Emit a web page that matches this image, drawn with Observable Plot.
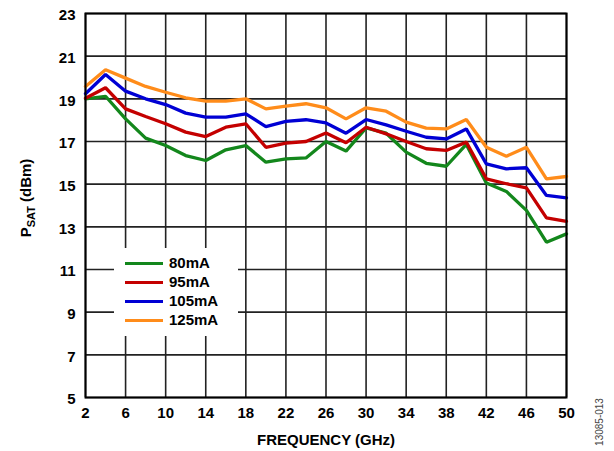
<!DOCTYPE html>
<html><head><meta charset="utf-8">
<script src="https://cdn.jsdelivr.net/npm/d3@7"></script>
<script src="https://cdn.jsdelivr.net/npm/@observablehq/plot@0.6"></script>
<style>
body{margin:0;background:#fff;}
#wrap{position:relative;width:614px;height:451px;font-family:"Liberation Sans",Arial,sans-serif;}
#legend{position:absolute;left:114px;top:248px;width:124px;height:88px;background:#fff;}
.row{position:absolute;left:0;height:20px;width:124px;}
.sw{position:absolute;left:11px;top:9px;width:38px;height:3px;}
.lab{position:absolute;left:55px;top:1px;font-weight:bold;font-size:15px;line-height:18px;color:#000;}
</style></head>
<body>
<div id="wrap"></div>
<script>
const freq = [2,4,6,8,10,12,14,16,18,20,22,24,26,28,30,32,34,36,38,40,42,44,46,48,50];
const s80  = [19.0,19.12,18.06,17.16,16.81,16.34,16.11,16.61,16.81,16.03,16.19,16.23,17.0,16.55,17.64,17.39,16.5,15.98,15.84,16.86,15.05,14.66,13.77,12.28,12.67];
const s95  = [19.03,19.52,18.53,18.17,17.83,17.44,17.23,17.67,17.83,16.73,16.92,17.0,17.4,16.94,17.67,17.36,17.0,16.66,16.58,16.97,15.25,15.02,14.83,13.42,13.26];
const s105 = [19.24,20.14,19.36,19.0,18.73,18.33,18.14,18.14,18.3,17.7,17.94,18.02,17.87,17.39,18.03,17.78,17.48,17.2,17.12,17.59,15.95,15.72,15.77,14.47,14.36];
const s125 = [19.58,20.36,19.97,19.58,19.31,19.05,18.89,18.89,19.0,18.53,18.66,18.77,18.58,18.06,18.58,18.42,17.91,17.63,17.59,18.03,16.73,16.31,16.73,15.25,15.36];
const seriesNames = ["80mA","95mA","105mA","125mA"];
const seriesColors = ["#13871c","#c40000","#0000d4","#ff8c1a"];
const xTicks = [2,6,10,14,18,22,26,30,34,38,42,46,50];
const yTicks = [5,7,9,11,13,15,17,19,21,23];

const allSeries = [s80,s95,s105,s125];
const data = [];
allSeries.forEach((arr,i)=>arr.forEach((v,j)=>data.push({f:freq[j],p:v,s:seriesNames[i]})));

const chart = Plot.plot({
  width:614, height:451,
  marginLeft:85, marginRight:48, marginTop:13, marginBottom:54,
  style:{fontFamily:"'Liberation Sans',Arial,sans-serif",fontSize:"15px",fontWeight:"bold",color:"#000",background:"#fff"},
  x:{domain:[2,50]},
  y:{domain:[5,23]},
  color:{domain:seriesNames, range:seriesColors},
  marks:[
    Plot.gridX(xTicks,{stroke:"#222",strokeOpacity:1,strokeWidth:1.6}),
    Plot.gridY(yTicks,{stroke:"#222",strokeOpacity:1,strokeWidth:1.6}),
    Plot.line(data,{x:"f",y:"p",z:"s",stroke:"s",strokeWidth:3.3,strokeLinejoin:"miter"}),
    Plot.frame({stroke:"#000",strokeWidth:2}),
    Plot.axisX(xTicks,{tickSize:0,tickPadding:10,fontSize:15,fontWeight:"bold",label:"FREQUENCY (GHz)",labelAnchor:"center",labelArrow:"none",labelOffset:47}),
    Plot.axisY(yTicks,{tickSize:0,tickPadding:10,fontSize:15,fontWeight:"bold",dy:2,label:null})
  ]
});
document.getElementById("wrap").appendChild(chart);

const svg = d3.select(chart);
const yl = svg.append("text")
  .attr("transform","translate(31,198) rotate(-90)")
  .attr("text-anchor","middle")
  .attr("font-size",15).attr("font-weight","bold").attr("fill","#000");
yl.append("tspan").text("P");
yl.append("tspan").attr("font-size",11).attr("dy",4).text("SAT");
yl.append("tspan").attr("dy",-4).text(" (dBm)");

svg.append("text")
  .attr("transform","translate(603,422) rotate(-90)")
  .attr("text-anchor","middle")
  .attr("font-size",10).attr("font-weight","normal").attr("fill","#444")
  .text("13085-013");

const leg = d3.select("#wrap").append("div").attr("id","legend");
seriesNames.forEach((n,i)=>{
  const r = leg.append("div").attr("class","row").style("top",(5+i*19)+"px");
  r.append("div").attr("class","sw").style("background",seriesColors[i]);
  r.append("div").attr("class","lab").text(n);
});
</script>
</body></html>
